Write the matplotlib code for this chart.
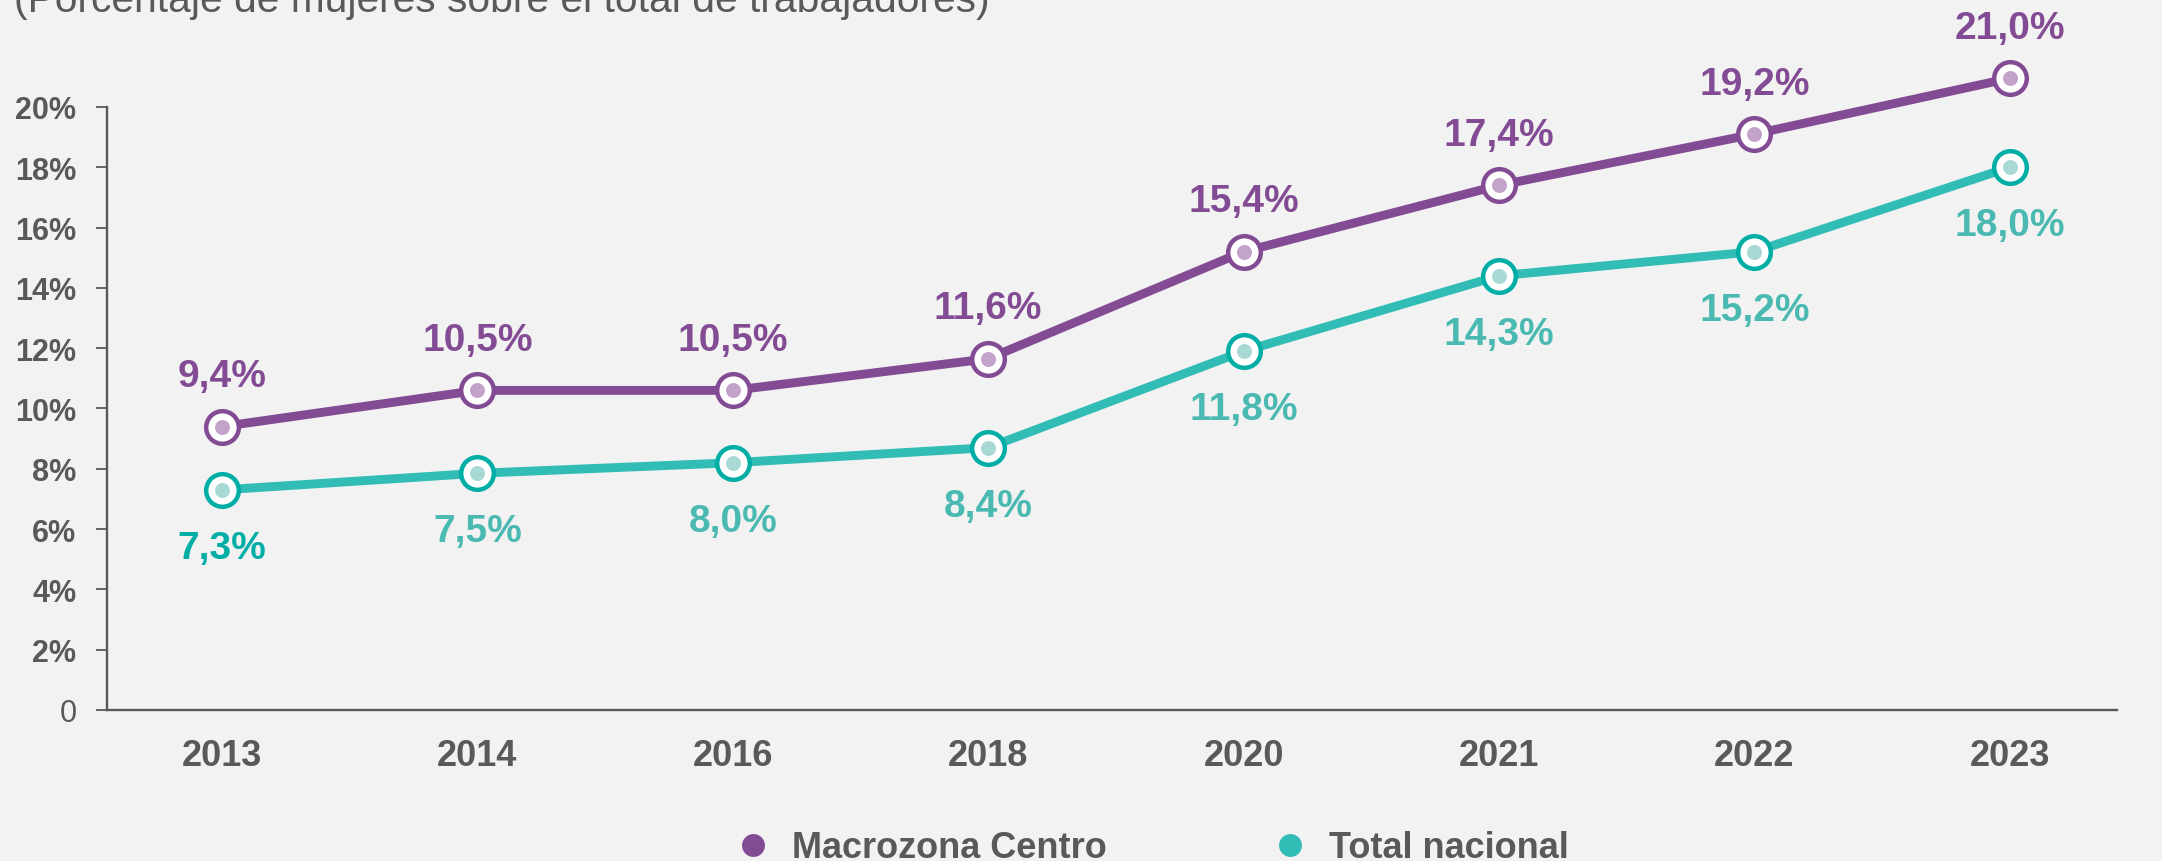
import matplotlib.pyplot as plt
from matplotlib.lines import Line2D

years = ['2013', '2014', '2016', '2018', '2020', '2021', '2022', '2023']
macrozona = [9.4, 10.6, 10.6, 11.65, 15.2, 17.4, 19.1, 20.95]
nacional = [7.3, 7.85, 8.2, 8.7, 11.9, 14.4, 15.2, 18.0]
macrozona_labels = ['9,4%', '10,5%', '10,5%', '11,6%', '15,4%', '17,4%', '19,2%', '21,0%']
nacional_labels = ['7,3%', '7,5%', '8,0%', '8,4%', '11,8%', '14,3%', '15,2%', '18,0%']
y_ticks = [0, 2, 4, 6, 8, 10, 12, 14, 16, 18, 20]
y_tick_labels = ['0', '2%', '4%', '6%', '8%', '10%', '12%', '14%', '16%', '18%', '20%']
series_names = ['Macrozona Centro', 'Total nacional']
title = '(Porcentaje de mujeres sobre el total de trabajadores)'

BG = '#f2f2f2'
GRAY = '#595959'
PURPLE = '#834b93'
PURPLE_LIGHT = '#c3a3ca'
TEAL = '#31bdb5'
TEAL_EDGE = '#00aea6'
TEAL_LIGHT = '#a8d9d5'
TEAL_TEXT = '#4ab9b1'

FONT = ['Liberation Sans', 'DejaVu Sans']

W, H = 2162, 862
fig = plt.figure(figsize=(W / 100, H / 100), dpi=100, facecolor=BG)
ax = fig.add_axes([107 / W, (H - 711) / H, (2117 - 107) / W, 693.5 / H])
ax.set_facecolor(BG)

x = list(range(len(years)))

# lines + ring markers + inner dots
for vals, line_c, edge_c, dot_c in [(macrozona, PURPLE, PURPLE, PURPLE_LIGHT),
                                    (nacional, TEAL, TEAL_EDGE, TEAL_LIGHT)]:
    ax.plot(x, vals, color=line_c, lw=6.4, zorder=2, clip_on=False, solid_capstyle='butt')
    ax.plot(x, vals, ls='none', marker='o', ms=23.5, mfc='white', mec=edge_c, mew=3.2,
            zorder=3, clip_on=False)
    ax.plot(x, vals, ls='none', marker='o', ms=10.8, mfc=dot_c, mec='none', zorder=4, clip_on=False)

# data labels
for i, (v, lab) in enumerate(zip(macrozona, macrozona_labels)):
    ax.annotate(lab, (i, v), xytext=(0, 29), textcoords='offset points', ha='center', va='baseline',
                fontsize=28, fontweight='bold', family=FONT, color=PURPLE)
for i, (v, lab) in enumerate(zip(nacional, nacional_labels)):
    c = TEAL_EDGE if i == 0 else TEAL_TEXT
    ax.annotate(lab, (i, v), xytext=(0, -49), textcoords='offset points', ha='center', va='baseline',
                fontsize=28, fontweight='bold', family=FONT, color=c)

ax.set_xlim(-0.45, 7.42)
ax.set_ylim(0, 23)

for s in ['top', 'right']:
    ax.spines[s].set_visible(False)
ax.spines['left'].set_bounds(0, 20)
for s in ['left', 'bottom']:
    ax.spines[s].set_color(GRAY)
    ax.spines[s].set_linewidth(1.7)

ax.set_yticks(y_ticks, y_tick_labels)
ax.tick_params(axis='y', length=8, width=1.3, color=GRAY, pad=14, labelsize=22, labelcolor=GRAY)
for t in ax.get_yticklabels():
    t.set_fontweight('bold')
    t.set_family(FONT)
ax.get_yticklabels()[0].set_fontweight('normal')

ax.set_xticks(x, years)
ax.tick_params(axis='x', length=0, pad=20, labelsize=26, labelcolor=GRAY)
for t in ax.get_xticklabels():
    t.set_fontweight('bold')
    t.set_family(FONT)

# cropped subtitle at the very top
fig.text(14 / W, (H - 12) / H, title, ha='left', va='baseline', fontsize=29.3,
         family=FONT, color=GRAY)

# legend drawn by hand
for name, c, dot_x, text_x in [(series_names[0], PURPLE, 753, 792),
                               (series_names[1], TEAL, 1290, 1329)]:
    fig.add_artist(Line2D([dot_x / W], [(H - 846) / H], marker='o', ms=16.5, color=c,
                          mec='none', transform=fig.transFigure))
    fig.text(text_x / W, (H - 858) / H, name, ha='left', va='baseline', fontsize=26,
             fontweight='bold', family=FONT, color=GRAY)

fig.savefig('out.png', dpi=100, facecolor=BG)
